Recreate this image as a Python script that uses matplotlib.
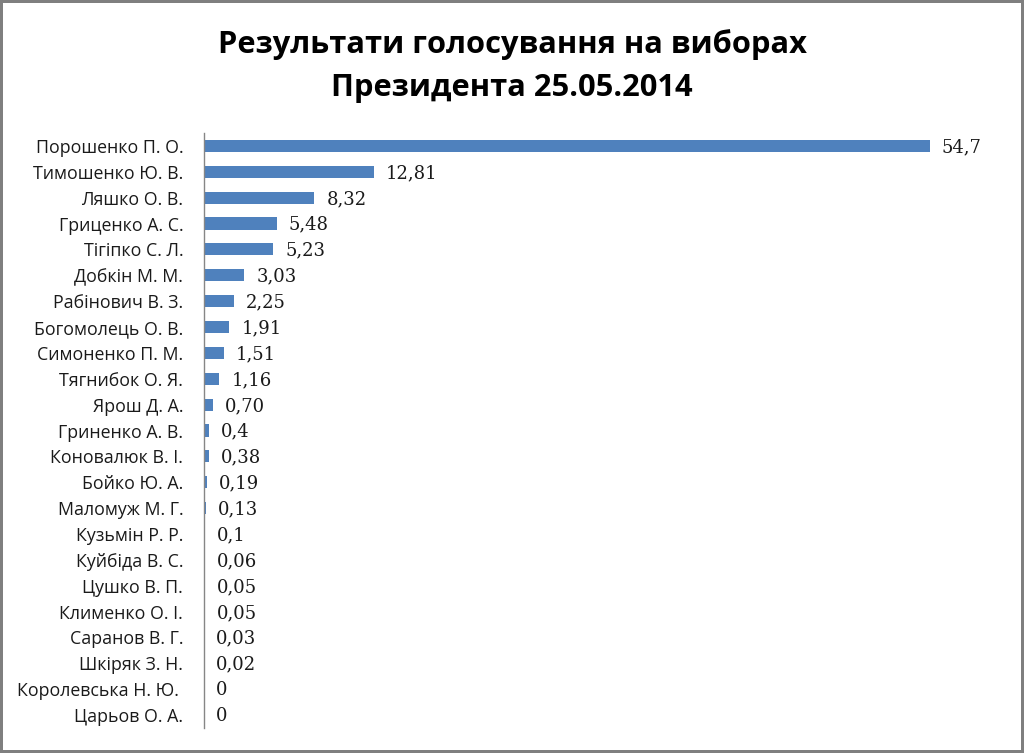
import matplotlib.pyplot as plt
import numpy as np

names = ['Порошенко П. О.', 'Тимошенко Ю. В.', 'Ляшко О. В.', 'Гриценко А. С.',
         'Тігіпко С. Л.', 'Добкін М. М.', 'Рабінович В. З.', 'Богомолець О. В.',
         'Симоненко П. М.', 'Тягнибок О. Я.', 'Ярош Д. А.', 'Гриненко А. В.',
         'Коновалюк В. І.', 'Бойко Ю. А.', 'Маломуж М. Г.', 'Кузьмін Р. Р.',
         'Куйбіда В. С.', 'Цушко В. П.', 'Клименко О. І.', 'Саранов В. Г.',
         'Шкіряк З. Н.', 'Королевська Н. Ю. ', 'Царьов О. А.']
values = [54.7, 12.81, 8.32, 5.48, 5.23, 3.03, 2.25, 1.91, 1.51, 1.16, 0.70, 0.4,
          0.38, 0.19, 0.13, 0.1, 0.06, 0.05, 0.05, 0.03, 0.02, 0, 0]
value_labels = ['54,7', '12,81', '8,32', '5,48', '5,23', '3,03', '2,25', '1,91',
                '1,51', '1,16', '0,70', '0,4', '0,38', '0,19', '0,13', '0,1',
                '0,06', '0,05', '0,05', '0,03', '0,02', '0', '0']

fig = plt.figure(figsize=(10.24, 7.53), dpi=100)
fig.patch.set_edgecolor('#7f7f7f')
fig.patch.set_linewidth(3)
ax = fig.add_axes([204/1024, 25/753, 796/1024, 595/753])

y = np.arange(len(names))
ax.barh(y, values, height=0.47, color='#4F81BD')
ax.set_ylim(len(names) - 0.5, -0.5)
ax.set_xlim(0, 60)

for yi, v, lab in zip(y, values, value_labels):
    ax.text(v + 0.9, yi + 0.05, lab, va='center', ha='left', fontsize=13,
            family='DejaVu Serif', color='#1a1a1a')

ax.set_yticks(y)
ax.set_yticklabels(names, fontsize=12.8, family='Open Sans', color='#1a1a1a')
ax.tick_params(axis='y', length=0, pad=15)
ax.set_xticks([])
for s in ['top', 'right', 'bottom']:
    ax.spines[s].set_visible(False)
ax.spines['left'].set_color('#868686')
ax.spines['left'].set_linewidth(1)

fig.text(512, 753 - 45, 'Результати голосування на виборах', transform=None,
         ha='center', va='center', fontsize=22.2, fontweight='bold', family='Open Sans')
fig.text(512, 753 - 88, 'Президента 25.05.2014', transform=None,
         ha='center', va='center', fontsize=22.2, fontweight='bold', family='Open Sans')

fig.savefig('out.png', dpi=100, edgecolor=fig.get_edgecolor())
